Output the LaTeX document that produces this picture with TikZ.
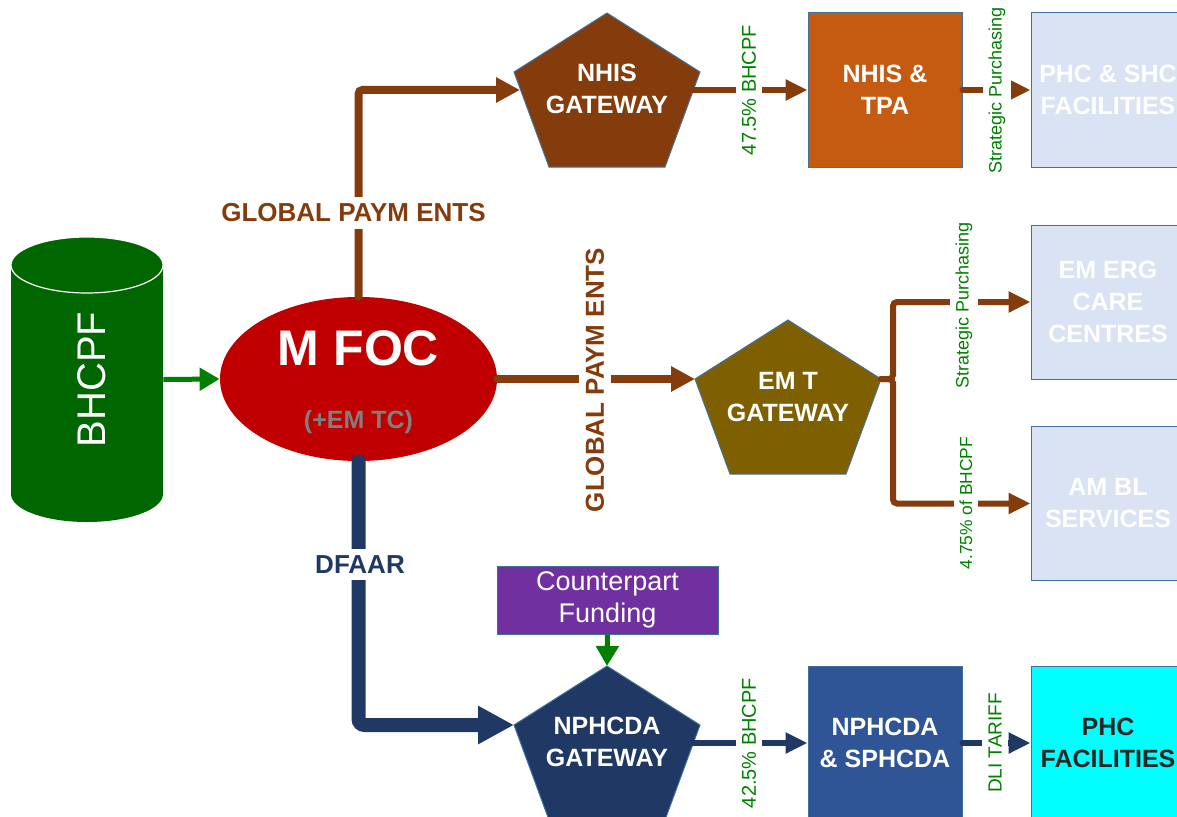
\documentclass[tikz,border=0pt]{standalone}
\usepackage{fontspec}
\setmainfont{Liberation Sans}
\usepackage{graphicx}
\usetikzlibrary{arrows.meta,shapes.geometric}

\definecolor{fundgreen}{HTML}{006600}
\definecolor{arrowgreen}{HTML}{008000}
\definecolor{mfocred}{HTML}{C00000}
\definecolor{paybrown}{HTML}{843C0C}
\definecolor{tpaorange}{HTML}{C55A11}
\definecolor{emtolive}{HTML}{7F6000}
\definecolor{facblue}{HTML}{DAE3F3}
\definecolor{edgeblue}{HTML}{41719C}
\definecolor{navy}{HTML}{203864}
\definecolor{agencyblue}{HTML}{2F5597}
\definecolor{cfpurple}{HTML}{7030A0}
\definecolor{phccyan}{HTML}{00FFFF}

% pentagon gateway: name, top x, top y, fill
\newcommand{\gateway}[4]{%
  \filldraw[fill=#4, draw=edgeblue, line width=0.5pt] (#2,#3) -- ++(-93,-59) -- ++(35,-95) -- ++(116,0) -- ++(35,95) -- cycle;
  \path (#2,#3) coordinate (#1-n) ++(-93,-59) coordinate (#1-w) ++(186,0) coordinate (#1-e)
    ++(-7,-18) coordinate (#1-out) ++(-173,0) coordinate (#1-in);
}

\tikzset{
  box/.style={rectangle, minimum width=77pt, minimum height=77pt, inner sep=0pt,
    draw=edgeblue, line width=0.5pt, text=white, align=center,
    font=\fontsize{12.5}{16}\selectfont\bfseries},
  gatetext/.style={text=white, align=center, inner sep=0pt,
    font=\fontsize{12.5}{16}\selectfont\bfseries},
  paythick/.style={paybrown, line width=4pt, line cap=round, rounded corners=2pt,
    -{Triangle[length=12pt,width=12pt]}},
  paythin/.style={paybrown, line width=3pt, line cap=round, rounded corners=2pt,
    -{Triangle[length=11pt,width=10pt]}},
  navythick/.style={navy, line width=7pt, line cap=round, rounded corners=3pt,
    -{Triangle[length=18pt,width=18pt]}},
  navythin/.style={navy, line width=3pt, line cap=round,
    -{Triangle[length=11pt,width=10pt]}},
  greenarrow/.style={arrowgreen, line width=2.5pt, -{Triangle[length=10pt,width=11pt]}},
  paylabel/.style={fill=white, text=paybrown, font=\fontsize{13}{15}\selectfont\bfseries},
  share/.style={fill=white, text=arrowgreen, rotate=90, inner sep=3pt,
    font=\fontsize{10}{12}\selectfont},
}

\begin{document}
\begin{tikzpicture}[x=0.5pt, y=0.5pt]
\useasboundingbox (0,0) rectangle (1177,816);

% fund cylinder
\fill[fundgreen] (11,551) -- (11,322) arc[start angle=180, end angle=360, x radius=38pt, y radius=14pt]
  -- (163,551) arc[start angle=0, end angle=180, x radius=38pt, y radius=14pt] -- cycle;
\draw[white, line width=0.6pt] (87,551) ellipse[x radius=38pt, y radius=14pt];
\node[minimum width=76pt, minimum height=142.5pt, inner sep=0pt, text=white,
  font=\fontsize{20}{24}\selectfont] (bhcpf) at (87,436.5) {\hspace*{5pt}\rotatebox{90}{BHCPF}};

% MFOC
\node[ellipse, fill=mfocred, minimum width=138.5pt, minimum height=82pt, inner sep=0pt] (mfoc) at (358.5,437) {};
\node[text=white, font=\fontsize{25}{30}\selectfont\bfseries] (mfoctitle) at (358.5,468) {M FOC};
\node[text=black!50, font=\fontsize{12.5}{15}\selectfont\bfseries] (mfocsub) at (358.5,394) {(+EM TC)};

% gateways
\gateway{nhis}{607}{803}{paybrown}
\gateway{emt}{788}{496}{emtolive}
\gateway{nphcda}{607}{150}{navy}
\node[gatetext] (nhis) at (607,727) {NHIS\\GATEWAY};
\node[gatetext] (emt) at (788,419) {EM T\\GATEWAY};
\node[gatetext] (nphcda) at (607,74) {NPHCDA\\GATEWAY};

% boxes
\node[box, fill=tpaorange] (tpa) at (885,726) {NHIS \&\\TPA};
\node[box, fill=facblue] (phcshc) at (1108,726) {PHC \& SHC\\FACILITIES};
\node[box, fill=facblue] (emerg) at (1108,514) {EM ERG\\CARE\\CENTRES};
\node[box, fill=facblue] (ambl) at (1108,312.5) {AM BL\\SERVICES};
\node[box, fill=agencyblue] (nsph) at (885,73) {NPHCDA\\\& SPHCDA};
\node[box, fill=phccyan, text=black!85] (phcfac) at (1108,73) {PHC\\FACILITIES};
\node[box, fill=cfpurple, minimum width=110.5pt, minimum height=34pt,
  font=\fontsize{13.5}{16}\selectfont] (cpf) at (607.5,216) {Counterpart\\Funding};

% connectors
\draw[greenarrow] (bhcpf.east) -- (mfoc.west);
\draw[paythick] (mfoc.north) |- (nhis-in);
\draw[paythick] (mfoc.east) -- (emt-w);
\draw[paythin] (nhis-out) -- (tpa.west);
\draw[paythin] (tpa.east) -- (phcshc.west);
\draw[paythin] (emt-e) -- ++(12,0) |- (emerg.west);
\draw[paythin] (emt-e) -- ++(12,0) |- (ambl.west);
\draw[navythick] (mfoc.south) |- (nphcda-w);
\draw[navythin] (nphcda-out) -- (nsph.west);
\draw[navythin] (nsph.east) -- (phcfac.west);
\draw[greenarrow] (cpf.south) -- (nphcda-n);

% labels
\node[paylabel] (gp1) at (353.5,603) {GLOBAL PAYM ENTS};
\node[paylabel, rotate=90] (gp2) at (595,436) {GLOBAL PAYM ENTS};
\node[fill=white, text=navy, font=\fontsize{13}{15}\selectfont\bfseries] (dfaar) at (360,251.5) {DFAAR};
\node[share] (nhisshare) at (749,726) {47.5\% BHCPF};
\node[share, font=\fontsize{9}{11}\selectfont] (sp1) at (997,726) {Strategic Purchasing};
\node[share, font=\fontsize{9}{11}\selectfont] (sp2) at (964,511) {Strategic Purchasing};
\node[share, font=\fontsize{8.7}{11}\selectfont] (emtshare) at (966,313) {4.75\% of BHCPF};
\node[share] (nphshare) at (749,73) {42.5\% BHCPF};
\node[share, font=\fontsize{9.5}{11}\selectfont] (dli) at (995,73) {DLI TARIFF};
\end{tikzpicture}
\end{document}
